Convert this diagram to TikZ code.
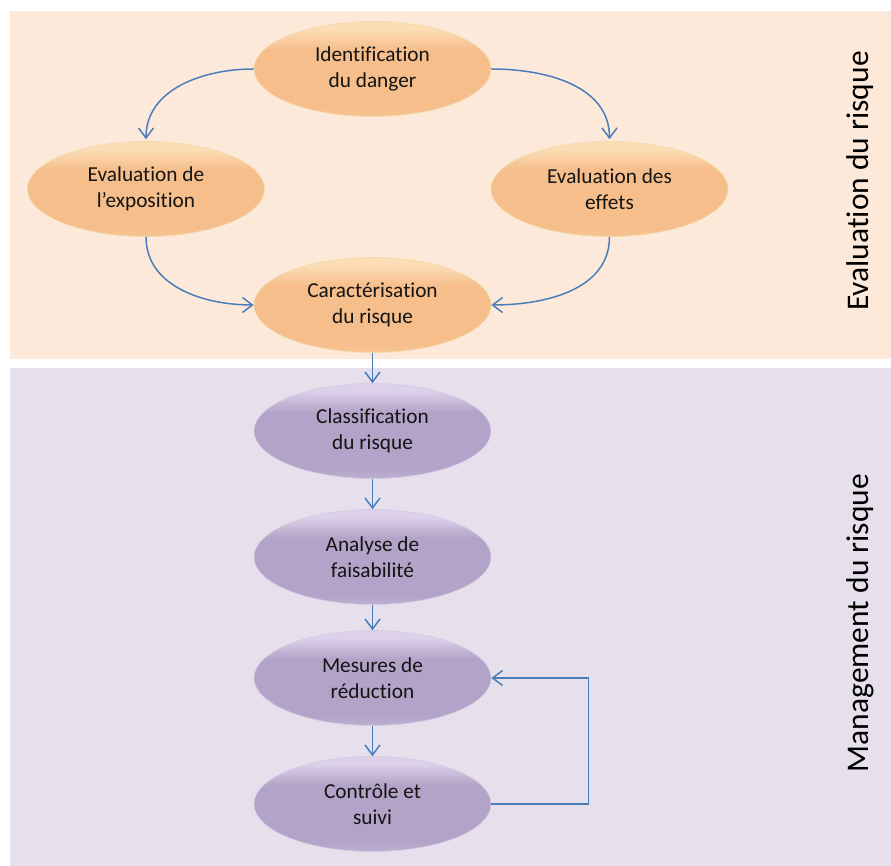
\documentclass[tikz,border=0pt]{standalone}
\usepackage{fontspec}
\setmainfont{Carlito}[Ligatures={NoCommon,NoContextual,NoRare},RawFeature={-calt}]
\usetikzlibrary{shapes.geometric,arrows.meta}
\definecolor{peach}{HTML}{FDE9D9}
\definecolor{lav}{HTML}{E5E0EC}
\definecolor{oMain}{HTML}{F6BE8B}
\definecolor{oTop}{HTML}{FCDDB6}
\definecolor{oEdge}{HTML}{F2D9A8}
\definecolor{lMain}{HTML}{B4A3C8}
\definecolor{lTop}{HTML}{DCD0EA}
\definecolor{lEdge}{HTML}{D4CAE2}
\definecolor{arrowblue}{HTML}{4A7EBB}
\pgfdeclareverticalshading{orsh}{100bp}{color(0bp)=(oMain); color(25bp)=(oMain!80!oTop); color(30bp)=(oMain); color(60bp)=(oMain); color(71bp)=(oTop); color(75bp)=(oTop); color(100bp)=(oTop)}
\pgfdeclareverticalshading{lvsh}{100bp}{color(0bp)=(lMain); color(25bp)=(lMain!75!lTop); color(30bp)=(lMain); color(60bp)=(lMain); color(71bp)=(lTop); color(75bp)=(lTop); color(100bp)=(lTop)}
\tikzset{
  bubble/.style={ellipse, minimum width=237pt, minimum height=95pt, inner sep=0pt,
    align=center, font=\fontsize{21.3}{26}\selectfont, text=black!92},
  orangebubble/.style={bubble, shading=orsh, draw=oEdge, line width=0.6pt},
  lavbubble/.style={bubble, shading=lvsh, draw=lEdge, line width=0.6pt},
  arr/.style={draw=arrowblue, line width=1.5pt, -{Straight Barb[length=10pt,width=15pt,line width=1.5pt]}},
  sidelabel/.style={rotate=90, font=\fontsize{31.5}{37}\selectfont, text=black}
}
\begin{document}
\begin{tikzpicture}[x=1pt,y=1pt]
\useasboundingbox (0,0) rectangle (891,866);
\fill[peach] (10,855) rectangle (891,507);
\fill[lav] (10,498) rectangle (891,0);

\node[orangebubble] (id) at (372.5,797) {Identification\\du danger};
\node[orangebubble] (expo) at (146,677) {Evaluation de\\l’exposition};
\node[orangebubble] (eff) at (609.5,677) {Evaluation des\\effets};
\node[orangebubble] (car) at (372.5,561) {Caractérisation\\du risque};

\node[lavbubble] (cla) at (372.5,435) {Classification\\du risque};
\node[lavbubble] (ana) at (372.5,309) {Analyse de\\faisabilité};
\node[lavbubble] (mes) at (372.5,188) {Mesures de\\réduction};
\node[lavbubble] (con) at (372.5,62) {Contrôle et\\suivi};

\node[sidelabel] (evl) at (860,685) {Evaluation du risque};
\node[sidelabel] (mgl) at (860,243) {Management du risque};

\draw[arr] (id.west) to[out=180,in=90] ([yshift=2pt]expo.north);
\draw[arr] (id.east) to[out=0,in=90] ([yshift=2pt]eff.north);
\draw[arr] (expo.south) to[out=-90,in=180] (car.west);
\draw[arr] (eff.south) to[out=-90,in=0] (car.east);
\draw[arr] (car.south) -- (cla.north);
\draw[arr] (cla.south) -- (ana.north);
\draw[arr] (ana.south) -- (mes.north);
\draw[arr] (mes.south) -- (con.north);
\draw[arr] (con.east) -- ++(97,0) |- (mes.east);
\end{tikzpicture}
\end{document}
